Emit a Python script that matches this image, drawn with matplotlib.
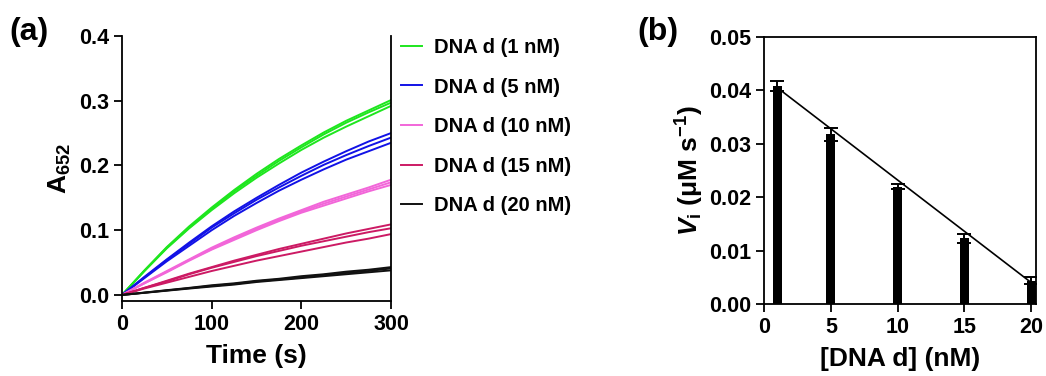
import matplotlib
matplotlib.use("Agg")
import matplotlib.pyplot as plt

plt.rcParams['font.family'] = ['Liberation Sans', 'DejaVu Sans']
plt.rcParams['font.weight'] = 'bold'
plt.rcParams['mathtext.fontset'] = 'custom'
plt.rcParams['mathtext.rm'] = 'Liberation Sans'
plt.rcParams['mathtext.it'] = 'Liberation Sans:italic:bold'
plt.rcParams['mathtext.bf'] = 'Liberation Sans:bold'

# ---- panel (a): kinetic traces, three replicates per concentration ----
time_s = [0, 25, 50, 75, 100, 125, 150, 175, 200, 225, 250, 275, 300]

green_reps = [
    [0, .038, .074, .106, .135, .162, .187, .210, .231, .251, .269, .285, .301],
    [0, .037, .073, .104, .133, .160, .184, .207, .228, .248, .266, .282, .297],
    [0, .037, .072, .103, .131, .157, .181, .203, .224, .243, .260, .276, .292],
]
blue_reps = [
    [0, .028, .055, .081, .106, .129, .150, .170, .189, .206, .222, .237, .250],
    [0, .027, .054, .079, .104, .126, .147, .166, .184, .201, .216, .230, .243],
    [0, .026, .052, .076, .100, .122, .142, .161, .178, .194, .209, .222, .235],
]
pink_reps = [
    [0, .019, .037, .055, .073, .089, .104, .118, .131, .144, .155, .166, .178],
    [0, .018, .036, .054, .071, .087, .102, .116, .129, .141, .152, .163, .174],
    [0, .018, .035, .053, .070, .085, .100, .114, .127, .138, .149, .160, .170],
]
crimson_reps = [
    [0, .011, .022, .033, .043, .053, .062, .071, .079, .087, .095, .102, .109],
    [0, .011, .021, .032, .042, .051, .060, .068, .076, .083, .090, .097, .103],
    [0, .010, .019, .028, .037, .045, .053, .060, .067, .074, .081, .087, .094],
]
black_reps = [
    [0, .0037, .0074, .011, .015, .018, .022, .025, .029, .032, .036, .039, .043],
    [0, .0035, .0070, .0105, .014, .017, .021, .024, .027, .031, .034, .037, .041],
    [0, .0033, .0066, .0099, .013, .016, .020, .023, .026, .029, .032, .035, .038],
]
series_labels = ['DNA d (1 nM)', 'DNA d (5 nM)', 'DNA d (10 nM)',
                 'DNA d (15 nM)', 'DNA d (20 nM)']
series_colors = ['#1ee61e', '#1212e6', '#f266d9', '#cc1a64', '#111111']

# ---- panel (b): initial rates ----
dna_conc = [1, 5, 10, 15, 20]
rate_mean = [0.0408, 0.0318, 0.0220, 0.0123, 0.0044]
rate_sd = [0.0010, 0.0012, 0.0004, 0.0009, 0.0007]
fit_x = [1, 20]
fit_y = [0.0405, 0.0040]

fig = plt.figure(figsize=(10.46, 3.76), dpi=100)

# panel a
ax1 = fig.add_axes([0.1166, 0.1995, 0.2572, 0.7048])
all_reps = [green_reps, blue_reps, pink_reps, crimson_reps, black_reps]
for reps, lab, col in zip(all_reps, series_labels, series_colors):
    for i, r in enumerate(reps):
        ax1.plot(time_s, r, color=col, lw=1.4, label=lab if i == 0 else None)
ax1.set_xlim(0, 300)
ax1.set_ylim(-0.0093, 0.4)
ax1.set_xticks([0, 100, 200, 300])
ax1.set_yticks([0.0, 0.1, 0.2, 0.3, 0.4])
ax1.set_yticklabels(['0.0', '0.1', '0.2', '0.3', '0.4'])
ax1.spines['top'].set_visible(False)
for s in ax1.spines.values():
    s.set_linewidth(1.3)
ax1.tick_params(width=1.3, length=6, labelsize=15.5)
ax1.set_xlabel('Time (s)', fontsize=19, fontweight='bold', labelpad=6)
ax1.set_ylabel(r'A$_{\mathrm{652}}$', fontsize=19, fontweight='bold', labelpad=4)
ax1.legend(loc='upper left', bbox_to_anchor=(0.383, 0.899),
           bbox_transform=fig.transFigure, frameon=False, fontsize=14.5,
           handlelength=1.05, handletextpad=0.62, labelspacing=1.02,
           borderaxespad=0, borderpad=0)

# panel b
ax2 = fig.add_axes([0.7304, 0.1915, 0.26, 0.7101])
ax2.bar(dna_conc, rate_mean, width=0.65, color='black')
ax2.errorbar(dna_conc, rate_mean, yerr=rate_sd, fmt='none', ecolor='black',
             elinewidth=1.4, capsize=5, capthick=1.4)
ax2.plot(fit_x, fit_y, color='black', lw=1.2)
ax2.set_xlim(0, 20.35)
ax2.set_ylim(0, 0.05)
ax2.set_xticks([0, 5, 10, 15, 20])
ax2.set_yticks([0.00, 0.01, 0.02, 0.03, 0.04, 0.05])
ax2.set_yticklabels(['0.00', '0.01', '0.02', '0.03', '0.04', '0.05'])
for s in ax2.spines.values():
    s.set_linewidth(1.3)
ax2.tick_params(width=1.3, length=6, labelsize=15.5)
ax2.set_xlabel('[DNA d] (nM)', fontsize=19, fontweight='bold', labelpad=6)
ax2.set_ylabel(r'$V_{\mathbf{i}}$ ($\mathbf{\mu}$M s$^{\mathbf{-1}}$)',
               fontsize=19, fontweight='bold', labelpad=2)

fig.text(0.009, 0.915, '(a)', fontsize=23, fontweight='bold', va='center')
fig.text(0.609, 0.915, '(b)', fontsize=23, fontweight='bold', va='center')

fig.savefig('out.png', dpi=100)
